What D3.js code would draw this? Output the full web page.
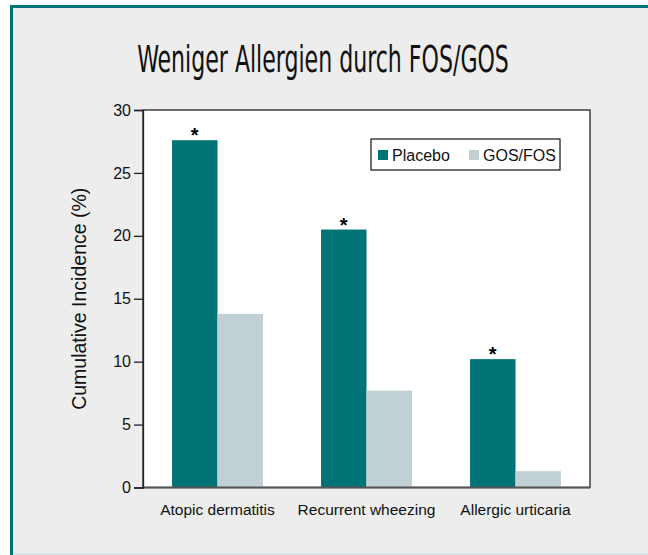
<!DOCTYPE html>
<html>
<head>
<meta charset="utf-8">
<script src="https://cdn.jsdelivr.net/npm/d3@7"></script>
<style>
  html, body { margin: 0; padding: 0; background: #ecedec; overflow: hidden; }
  svg { display: block; }
</style>
</head>
<body>
<div id="chart"></div>
<script>
// data
const categories = ['Atopic dermatitis', 'Recurrent wheezing', 'Allergic urticaria'];
const seriesNames = ['Placebo', 'GOS/FOS'];
const placebo = [27.6, 20.5, 10.2];
const gosfos = [13.8, 7.7, 1.3];
const significant = [true, true, true];
const yTicks = [0, 5, 10, 15, 20, 25, 30];

const W = 648, H = 555;
const colors = { Placebo: '#007377', 'GOS/FOS': '#c1d0d4' };
const margin = { top: 110, right: 58, bottom: 67.5, left: 143 };
const innerW = W - margin.left - margin.right;
const innerH = H - margin.top - margin.bottom;

const svg = d3.select('#chart').append('svg')
  .attr('width', W + 40).attr('height', H);

// white outside strip, grey panel, teal frame on left and top
svg.append('rect').attr('width', W + 40).attr('height', H).attr('fill', '#fff');
svg.append('rect').attr('x', 11.5).attr('y', 6.5).attr('width', W + 40).attr('height', 547)
  .attr('fill', '#ecedec');
svg.append('path').attr('d', `M11.5,${H} V6.5 H${W + 40}`)
  .attr('fill', 'none').attr('stroke', '#007377').attr('stroke-width', 3);
svg.append('line').attr('x1', 13).attr('x2', W + 40).attr('y1', 554).attr('y2', 554)
  .attr('stroke', '#cfe0df').attr('stroke-width', 1.5);

// title, squeezed horizontally like the condensed original face
const title = svg.append('g').attr('transform', 'translate(323,72)')
  .append('text')
  .attr('text-anchor', 'middle')
  .attr('font-family', '"Liberation Sans Narrow", "DejaVu Sans Condensed", sans-serif')
  .attr('font-stretch', 'condensed')
  .attr('font-size', 38)
  .attr('fill', '#111')
  .text('Weniger Allergien durch FOS/GOS');
const tw = title.node().getComputedTextLength();
title.attr('transform', `scale(${372 / tw},1)`);

const g = svg.append('g').attr('transform', `translate(${margin.left},${margin.top})`);

const x = d3.scaleBand().domain(categories).range([0, innerW]).paddingInner(0.39).paddingOuter(0.195);
const xs = d3.scaleBand().domain(seriesNames).range([0, x.bandwidth()]);
const y = d3.scaleLinear().domain([0, 30]).range([innerH, 0]);

// plot area
g.append('rect').attr('width', innerW).attr('height', innerH).attr('fill', '#fff')
  .attr('stroke', '#222').attr('stroke-width', 1.3);

// bars
const rows = categories.map((c, i) => ({ cat: c, vals: [placebo[i], gosfos[i]], sig: significant[i] }));
const grp = g.selectAll('.grp').data(rows).join('g')
  .attr('transform', d => `translate(${x(d.cat)},0)`);
grp.selectAll('rect').data(d => d.vals.map((v, j) => ({ name: seriesNames[j], v })))
  .join('rect')
  .attr('x', d => xs(d.name)).attr('width', xs.bandwidth())
  .attr('y', d => y(d.v)).attr('height', d => innerH - y(d.v))
  .attr('fill', d => colors[d.name]);
grp.filter(d => d.sig).append('text')
  .attr('x', xs('Placebo') + xs.bandwidth() / 2)
  .attr('y', d => y(d.vals[0]) + 2)
  .attr('text-anchor', 'middle')
  .attr('font-family', 'Liberation Sans, Arial, sans-serif')
  .attr('font-weight', 'bold').attr('font-size', 20)
  .text('*');

// bottom axis line
g.append('line').attr('x1', 0).attr('x2', innerW).attr('y1', innerH).attr('y2', innerH)
  .attr('stroke', '#555').attr('stroke-width', 2.2);

// y axis
const yAxis = g.append('g')
  .call(d3.axisLeft(y).tickValues(yTicks).tickSize(9).tickPadding(3));
yAxis.select('.domain').attr('stroke', '#222').attr('stroke-width', 1.3);
yAxis.selectAll('.tick line').attr('stroke', '#222').attr('stroke-width', 1.3);
yAxis.selectAll('.tick text')
  .attr('font-family', 'Liberation Sans, Arial, sans-serif')
  .attr('font-size', 16).attr('fill', '#111');

// x labels
g.append('g').selectAll('text').data(categories).join('text')
  .attr('x', d => x(d) + x.bandwidth() / 2)
  .attr('y', innerH + 27)
  .attr('text-anchor', 'middle')
  .attr('font-family', 'Liberation Sans, Arial, sans-serif')
  .attr('font-size', 15.5).attr('fill', '#111')
  .text(d => d);

// y label
svg.append('text')
  .attr('transform', `translate(86,${margin.top + innerH / 2}) rotate(-90)`)
  .attr('text-anchor', 'middle')
  .attr('font-family', 'Liberation Sans, Arial, sans-serif')
  .attr('font-size', 19.5).attr('fill', '#111')
  .text('Cumulative Incidence (%)');

// legend
const leg = svg.append('g').attr('transform', 'translate(371,139)');
leg.append('rect').attr('width', 189).attr('height', 31)
  .attr('fill', '#fff').attr('stroke', '#111').attr('stroke-width', 1.2);
const legX = [7, 98];
seriesNames.forEach((n, i) => {
  leg.append('rect').attr('x', legX[i]).attr('y', 11).attr('width', 10).attr('height', 10)
    .attr('fill', colors[n]);
  leg.append('text').attr('x', legX[i] + 14).attr('y', 21.5)
    .attr('font-family', 'Liberation Sans, Arial, sans-serif')
    .attr('font-size', 16).attr('fill', '#111')
    .text(n);
});
</script>
</body>
</html>
